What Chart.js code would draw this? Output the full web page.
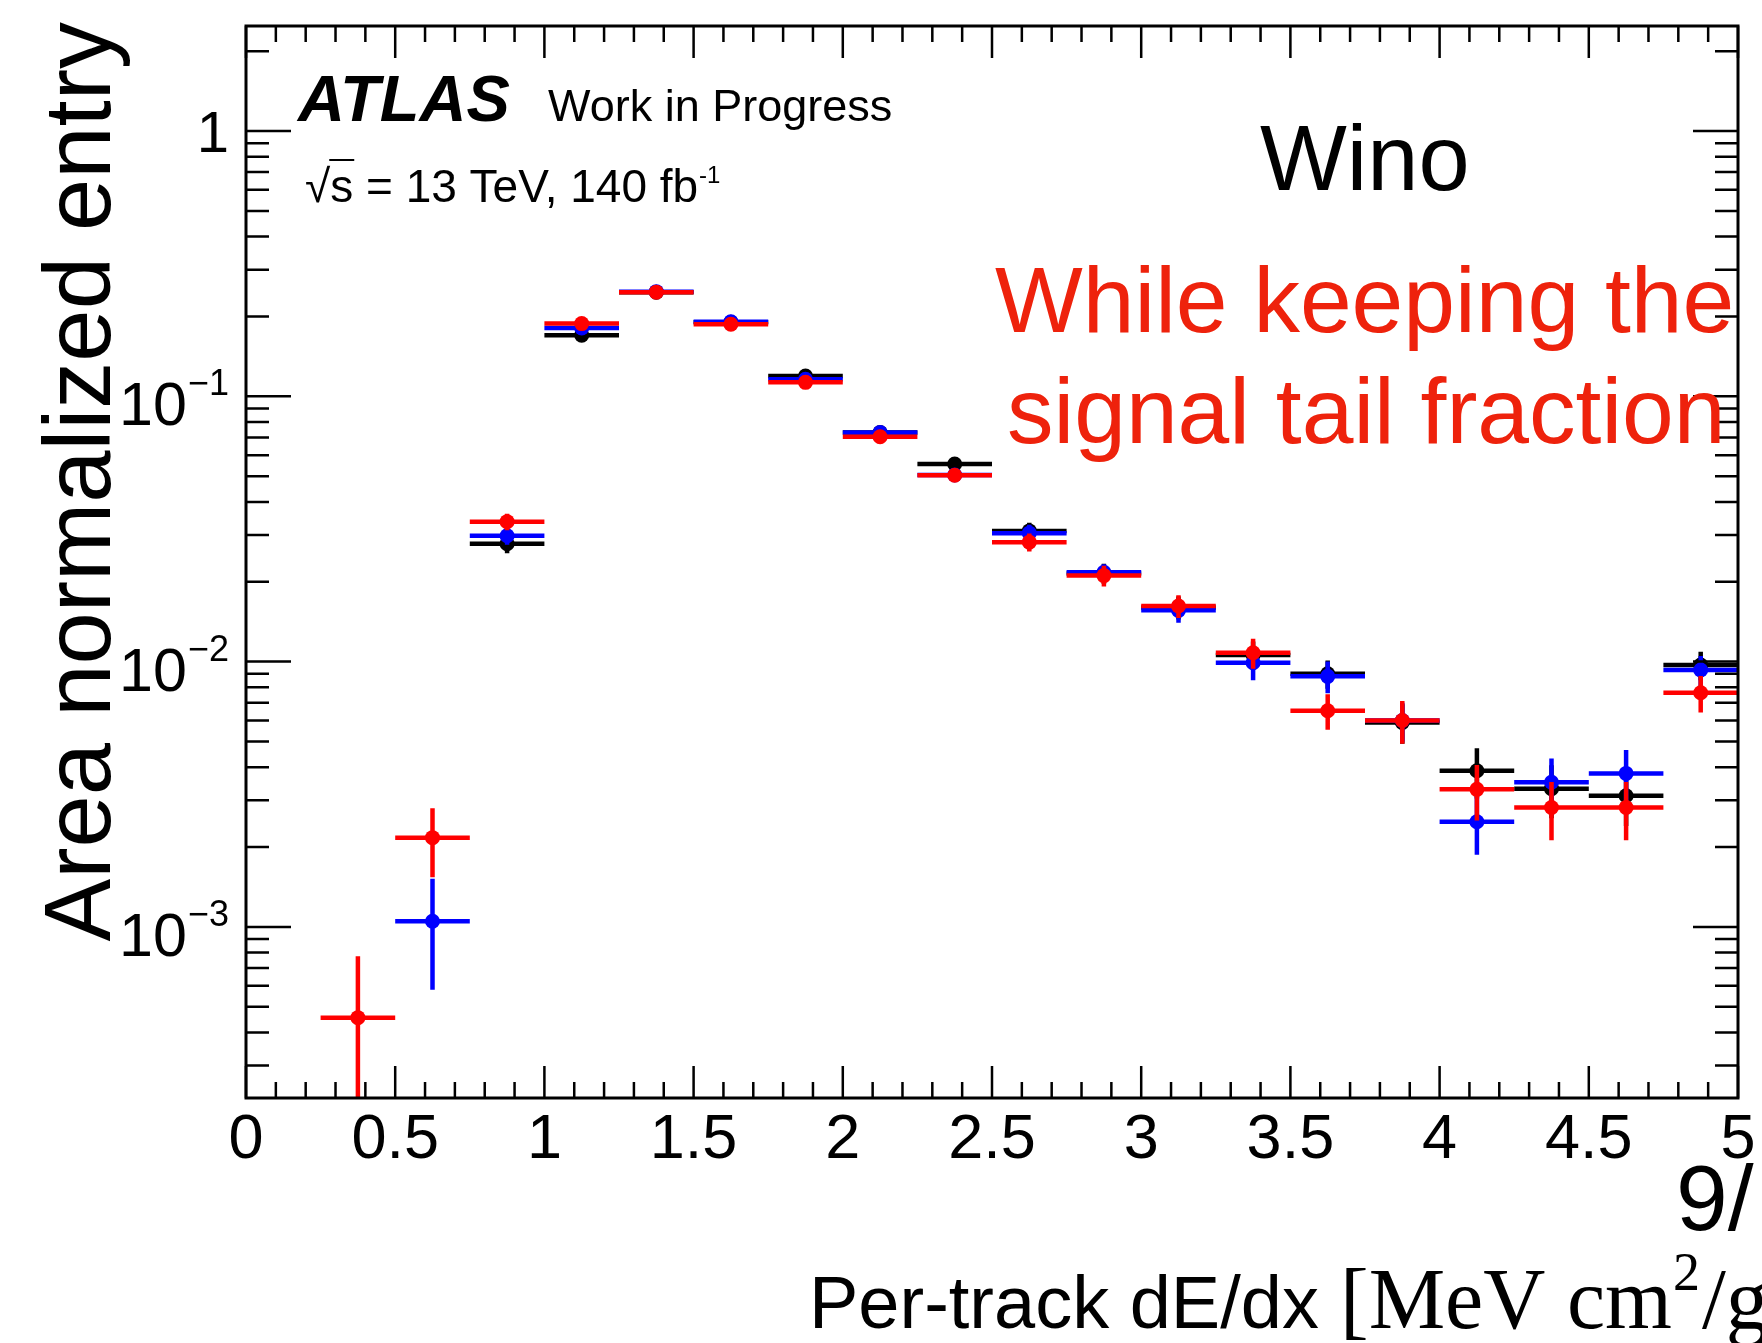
<!DOCTYPE html>
<html>
<head>
<meta charset="utf-8">
<script src="https://cdn.jsdelivr.net/npm/chart.js@4.4.1/dist/chart.umd.min.js"></script>
<style>
html,body{margin:0;padding:0;background:#ffffff;}
#wrap{width:1762px;height:1343px;position:relative;overflow:hidden;}
canvas{display:block;}
</style>
</head>
<body>
<div id="wrap"><canvas id="c" width="1762" height="1343"></canvas></div>
<script>
// ---------------- data ----------------
const binCenters = [0.125,0.375,0.625,0.875,1.125,1.375,1.625,1.875,2.125,2.375,2.625,2.875,3.125,3.375,3.625,3.875,4.125,4.375,4.625,4.875];
const binHalfWidth = 0.125;

const blackValues = [null,null,null,0.0278,0.170,0.247,0.190,0.1193,0.0730,0.0556,0.0311,0.0215,0.0160,0.0106,0.0090,0.0059,0.00388,0.00332,0.00312,0.0097];
const blackErrors = [null,null,null,0.0022,0.0053,0.0064,0.0056,0.0045,0.0035,0.0030,0.0023,0.0019,0.0016,0.0013,0.0011,0.0010,0.00083,0.00075,0.00072,0.0012];

const blueValues = [null,null,0.00105,0.0298,0.181,0.248,0.191,0.1159,0.0731,0.0505,0.0305,0.0217,0.0156,0.0099,0.0088,0.0060,0.00249,0.00351,0.00379,0.0093];
const blueErrors = [null,null,0.00047,0.0022,0.0055,0.0064,0.0056,0.0044,0.0035,0.0029,0.0023,0.0016,0.0016,0.0014,0.0012,0.0010,0.00062,0.0008,0.00085,0.0012];

const redValues = [null,0.000455,0.00217,0.0337,0.188,0.247,0.187,0.1129,0.0704,0.0504,0.0282,0.0211,0.0162,0.0108,0.00653,0.0060,0.0033,0.00282,0.00282,0.00763];
const redErrors = [null,0.00032,0.00063,0.0024,0.0056,0.0064,0.0056,0.0043,0.0034,0.0029,0.0022,0.0019,0.0016,0.0014,0.0010,0.0011,0.00078,0.0007,0.0007,0.0012];

const xTickValues = [0,0.5,1,1.5,2,2.5,3,3.5,4,4.5,5];
const xTickLabels = ['0','0.5','1','1.5','2','2.5','3','3.5','4','4.5','5'];
const yTickValues = [1,0.1,0.01,0.001];
const yTickBases = ['1','10','10','10'];
const yTickExponents = ['','\u22121','\u22122','\u22123'];

const xMin = 0, xMax = 5;
const yMin = 2.265e-4, yMax = 2.488;

// ---------------- build datasets ----------------
function errorBarData(values, errors) {
  const pts = [];
  for (let i = 0; i < binCenters.length; i++) {
    const v = values[i];
    if (v === null) continue;
    const c = binCenters[i], e = errors[i];
    pts.push({x: c - binHalfWidth, y: v}, {x: c + binHalfWidth, y: v}, {x: c, y: null});
    pts.push({x: c, y: v - e}, {x: c, y: v + e}, {x: c, y: null});
  }
  return pts;
}
function markerData(values) {
  const pts = [];
  for (let i = 0; i < binCenters.length; i++) {
    if (values[i] !== null) pts.push({x: binCenters[i], y: values[i]});
  }
  return pts;
}
function seriesDatasets(name, values, errors, color, baseOrder) {
  return [
    {
      label: name + ' errors', type: 'line', data: errorBarData(values, errors),
      borderColor: color, borderWidth: 4.5, pointRadius: 0, showLine: true,
      spanGaps: false, fill: false, tension: 0, borderCapStyle: 'butt',
      order: baseOrder + 1
    },
    {
      label: name, type: 'scatter', data: markerData(values),
      backgroundColor: color, borderColor: color, borderWidth: 0,
      pointRadius: 7.5, pointStyle: 'circle', showLine: false,
      order: baseOrder
    }
  ];
}

const datasets = [].concat(
  seriesDatasets('red', redValues, redErrors, '#ff0000', 0),
  seriesDatasets('blue', blueValues, blueErrors, '#0000ff', 2),
  seriesDatasets('black', blackValues, blackErrors, '#000000', 4)
);

// ---------------- axes / annotations plugin ----------------
const SANS = '"Liberation Sans", Arial, Helvetica, sans-serif';
const SERIF = '"Liberation Serif", "Times New Roman", serif';

const rootFrame = {
  id: 'rootFrame',
  afterDatasetsDraw(chart) {
    const ctx = chart.ctx;
    const xs = chart.scales.x, ys = chart.scales.y;
    const a = chart.chartArea;
    ctx.save();
    ctx.strokeStyle = '#000';
    ctx.fillStyle = '#000';

    // ticks
    ctx.lineWidth = 2.5;
    ctx.beginPath();
    for (let k = 0; k <= 50; k++) {
      const v = xMin + k * 0.1;
      const px = xs.getPixelForValue(v);
      const major = (k % 5 === 0);
      const len = major ? 32 : 16;
      ctx.moveTo(px, a.bottom); ctx.lineTo(px, a.bottom - len);
      ctx.moveTo(px, a.top); ctx.lineTo(px, a.top + len);
    }
    for (let d = -4; d <= 0; d++) {
      for (let m = 1; m <= 9; m++) {
        const v = m * Math.pow(10, d);
        if (v < yMin || v > yMax) continue;
        const py = ys.getPixelForValue(v);
        const len = (m === 1) ? 45 : 23;
        ctx.moveTo(a.left, py); ctx.lineTo(a.left + len, py);
        ctx.moveTo(a.right, py); ctx.lineTo(a.right - len, py);
      }
    }
    ctx.stroke();

    // frame
    ctx.lineWidth = 3;
    ctx.strokeRect(a.left, a.top, a.right - a.left, a.bottom - a.top);

    // x tick labels
    ctx.font = '63px ' + SANS;
    ctx.textAlign = 'center';
    ctx.textBaseline = 'alphabetic';
    xTickValues.forEach((v, i) => {
      ctx.fillText(xTickLabels[i], xs.getPixelForValue(v), a.bottom + 60);
    });

    // y tick labels
    yTickValues.forEach((v, i) => {
      const py = ys.getPixelForValue(v);
      const rightEdge = a.left - 17;
      if (yTickExponents[i] === '') {
        ctx.font = '58px ' + SANS;
        ctx.textAlign = 'right';
        ctx.fillText(yTickBases[i], rightEdge, py + 21);
      } else {
        ctx.font = '36px ' + SANS;
        ctx.textAlign = 'right';
        ctx.fillText(yTickExponents[i], rightEdge, py - 1);
        const ew = ctx.measureText(yTickExponents[i]).width;
        ctx.font = '61px ' + SANS;
        ctx.fillText(yTickBases[i], rightEdge - ew - 1, py + 29);
      }
    });

    // y title
    ctx.save();
    ctx.translate(110, 22);
    ctx.rotate(-Math.PI / 2);
    ctx.font = '94px ' + SANS;
    ctx.textAlign = 'right';
    ctx.textBaseline = 'alphabetic';
    ctx.fillText('Area normalized entry', 0, 0);
    ctx.restore();

    // x title (cropped at the right edge as in the slide)
    ctx.textAlign = 'left';
    ctx.font = '74px ' + SANS;
    ctx.fillText('Per-track dE/dx', 809, 1328);
    ctx.font = '86px ' + SERIF;
    ctx.fillText('[MeV cm', 1340, 1328);
    const cmEnd = 1340 + ctx.measureText('[MeV cm').width;
    ctx.font = '54px ' + SERIF;
    ctx.fillText('2', cmEnd + 1, 1290);
    const twoEnd = cmEnd + 1 + ctx.measureText('2').width;
    ctx.font = '86px ' + SERIF;
    ctx.fillText('/g]', twoEnd + 2, 1328);

    // page number fragment
    ctx.font = '93px ' + SANS;
    ctx.fillText('9/', 1676, 1230);

    // ATLAS label
    ctx.font = 'italic bold 65px ' + SANS;
    ctx.fillText('ATLAS', 298, 121);
    ctx.font = '45px ' + SANS;
    ctx.fillText('Work in Progress', 548, 121);

    // sqrt(s) line
    ctx.font = '46px ' + SANS;
    const rootW = ctx.measureText('\u221A').width;
    ctx.fillText('\u221A', 305, 202);
    const sW = ctx.measureText('s').width;
    ctx.fillText('s', 305 + rootW, 202);
    ctx.lineWidth = 2;
    ctx.beginPath();
    ctx.moveTo(305 + rootW - 1, 160);
    ctx.lineTo(305 + rootW + sW + 1, 160);
    ctx.stroke();
    const rest = ' = 13 TeV, 140 fb';
    ctx.fillText(rest, 305 + rootW + sW, 202);
    const restW = ctx.measureText(rest).width;
    ctx.font = '24px ' + SANS;
    ctx.fillText('-1', 305 + rootW + sW + restW + 1, 183);

    // slide annotations
    ctx.font = '92px ' + SANS;
    ctx.fillStyle = '#000';
    ctx.fillText('Wino', 1260, 190);
    ctx.fillStyle = '#ee220c';
    ctx.font = '93px ' + SANS;
    ctx.fillText('While keeping the', 995, 332);
    ctx.fillText('signal tail fraction', 1007, 443);

    ctx.restore();
  }
};

new Chart(document.getElementById('c'), {
  type: 'scatter',
  data: { datasets: datasets },
  options: {
    responsive: false,
    devicePixelRatio: 1,
    animation: false,
    events: [],
    layout: { padding: { left: 246, top: 26, right: 24, bottom: 245 } },
    plugins: { legend: { display: false }, tooltip: { enabled: false }, title: { display: false } },
    scales: {
      x: { type: 'linear', min: xMin, max: xMax, display: false },
      y: { type: 'logarithmic', min: yMin, max: yMax, display: false }
    }
  },
  plugins: [rootFrame]
});
</script>
</body>
</html>
